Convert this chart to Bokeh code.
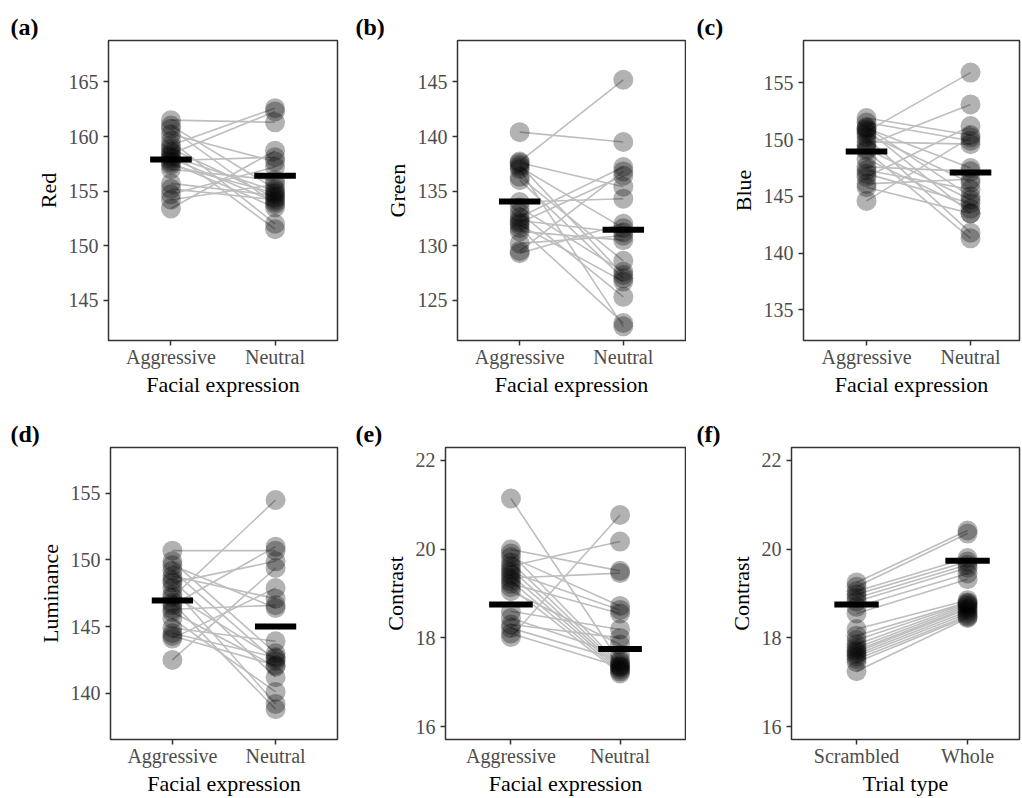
from bokeh.plotting import figure
from bokeh.layouts import row, column
from bokeh.models import FixedTicker, Range1d, Title
from bokeh.embed import file_html
from bokeh.resources import INLINE

expression_cats = ["Aggressive", "Neutral"]
trial_cats = ["Scrambled", "Whole"]

red_aggressive = [161.5, 161.0, 160.7, 160.2, 159.6, 159.2, 158.9, 158.6, 158.4, 158.2,
                  158.0, 157.8, 157.6, 157.4, 157.0, 155.7, 155.2, 154.7, 154.2, 153.4]
red_neutral = [161.3, 155.2, 153.8, 157.7, 152.0, 162.6, 154.4, 151.5, 162.3, 155.0,
               154.0, 158.1, 153.5, 154.8, 156.0, 154.6, 154.2, 157.2, 155.6, 158.7]
red_means = [157.9, 156.4]
red_ticks = [145, 150, 155, 160, 165]

green_aggressive = [140.4, 137.7, 137.6, 137.4, 137.2, 137.0, 136.3, 136.0, 134.0, 133.5,
                    133.0, 132.6, 132.3, 132.1, 131.9, 131.6, 131.3, 130.2, 129.5, 129.3]
green_neutral = [139.5, 145.2, 135.4, 127.3, 131.6, 122.6, 128.6, 127.0, 134.3, 127.6,
                 125.3, 137.2, 131.2, 136.4, 126.7, 122.9, 130.5, 130.9, 136.8, 132.0]
green_means = [134.05, 131.45]
green_ticks = [125, 130, 135, 140, 145]

blue_aggressive = [151.9, 151.5, 151.1, 151.0, 150.9, 150.7, 150.5, 150.2, 149.8, 149.5,
                   149.2, 149.0, 148.3, 147.6, 147.3, 147.0, 146.7, 146.1, 145.8, 144.6]
blue_neutral = [150.4, 149.9, 145.0, 147.5, 143.5, 155.9, 146.2, 141.8, 149.6, 153.1,
                144.7, 141.3, 143.9, 147.2, 145.6, 144.4, 151.2, 146.5, 143.5, 150.2]
blue_means = [148.95, 147.1]
blue_ticks = [135, 140, 145, 150, 155]

lum_aggressive = [150.7, 149.9, 149.6, 149.2, 148.8, 148.5, 148.3, 147.9, 147.4, 147.2,
                  146.8, 146.6, 146.3, 146.1, 145.6, 144.9, 144.5, 144.3, 144.1, 142.5]
lum_neutral = [150.7, 143.0, 146.4, 142.4, 147.1, 141.2, 149.9, 139.2, 142.6, 154.5,
               138.8, 151.0, 146.6, 142.0, 140.1, 143.9, 142.7, 142.1, 147.9, 149.4]
lum_means = [146.96, 145.0]
lum_ticks = [140, 145, 150, 155]

contrast_aggressive = [21.14, 19.99, 19.90, 19.82, 19.70, 19.62, 19.55, 19.48, 19.42, 19.35,
                       19.28, 19.22, 19.14, 19.05, 18.60, 18.45, 18.30, 18.22, 18.10, 18.02]
contrast_neutral = [17.45, 19.51, 17.40, 18.72, 17.36, 20.17, 17.32, 18.63, 17.28, 19.46,
                    17.24, 18.55, 17.20, 17.85, 18.19, 17.62, 18.00, 17.50, 17.35, 20.77]
contrast_expr_means = [18.75, 17.75]

contrast_scrambled = [19.25, 19.15, 19.05, 18.98, 18.90, 18.82, 18.70, 18.55, 18.20, 18.05,
                      17.95, 17.85, 17.78, 17.72, 17.68, 17.63, 17.58, 17.52, 17.45, 17.25]
contrast_whole = [20.42, 20.35, 19.80, 19.72, 19.65, 19.58, 19.45, 19.32, 18.85, 18.80,
                  18.78, 18.75, 18.72, 18.68, 18.65, 18.60, 18.55, 18.50, 18.47, 18.45]
contrast_trial_means = [18.75, 19.74]
contrast_ticks = [16, 18, 20, 22]

FONT = "Liberation Serif"


def make_panel(label, ylabel, xlabel, cats, first, second, means, yticks,
               yrange, xrange, width, height, left, right, top, bottom):
    p = figure(width=width, height=height,
               x_range=Range1d(*xrange), y_range=Range1d(*yrange),
               output_backend="svg", toolbar_location=None, tools="",
               min_border_left=left, min_border_right=right,
               min_border_top=top, min_border_bottom=bottom)
    xpos = [i + 1 for i in range(len(cats))]
    x_first = [xpos[0]] * len(first)
    x_second = [xpos[1]] * len(second)
    p.segment(x0=x_first, y0=first, x1=x_second, y1=second,
              line_color="#bebebe", line_width=1.6)
    p.scatter(x=x_first + x_second, y=first + second, size=20,
              fill_color="black", fill_alpha=0.3, line_color=None)
    p.rect(x=xpos, y=means, width=0.4, height=6, height_units="screen",
           fill_color="black", line_color=None)

    p.grid.visible = False
    p.background_fill_color = "white"
    p.border_fill_color = "white"
    p.outline_line_color = "#333333"
    p.outline_line_width = 1.5

    p.xaxis.ticker = FixedTicker(ticks=xpos)
    p.xaxis.major_label_overrides = {xpos[i]: cats[i] for i in range(len(cats))}
    p.yaxis.ticker = FixedTicker(ticks=yticks)
    p.axis.minor_tick_line_color = None
    p.axis.axis_line_color = None
    p.axis.major_tick_in = 0
    p.axis.major_tick_out = 5
    p.axis.major_tick_line_color = "#333333"
    p.axis.major_tick_line_width = 1.5
    p.axis.major_label_text_font = FONT
    p.axis.major_label_text_font_size = "20px"
    p.axis.major_label_text_color = "#4d4d4d"
    p.axis.axis_label_text_font = FONT
    p.axis.axis_label_text_font_size = "22px"
    p.axis.axis_label_text_font_style = "normal"
    p.axis.axis_label_text_color = "black"
    p.xaxis.axis_label = xlabel
    p.yaxis.axis_label = ylabel
    p.xaxis.major_label_standoff = 0
    p.yaxis.major_label_standoff = 5
    p.xaxis.axis_label_standoff = 1
    p.yaxis.axis_label_standoff = 5

    p.title = Title(text=label, align="left", offset=-(left - 10),
                    text_font=FONT, text_font_size="24px",
                    text_font_style="bold", text_color="black", standoff=2)
    return p


pa = make_panel("(a)", "Red", "Facial expression", expression_cats,
                red_aggressive, red_neutral, red_means, red_ticks,
                (141.3, 168.8), (0.4, 2.6), 345, 399, 108, 8, 40, 59)
pb = make_panel("(b)", "Green", "Facial expression", expression_cats,
                green_aggressive, green_neutral, green_means, green_ticks,
                (121.3, 148.8), (0.4, 2.6), 341, 399, 112, 1, 40, 59)
pc = make_panel("(c)", "Blue", "Facial expression", expression_cats,
                blue_aggressive, blue_neutral, blue_means, blue_ticks,
                (132.3, 158.73), (0.394, 2.471), 336, 399, 117, 3, 40, 59)
pd = make_panel("(d)", "Luminance", "Facial expression", expression_cats,
                lum_aggressive, lum_neutral, lum_means, lum_ticks,
                (136.53, 158.44), (0.4, 2.6), 345, 399, 110, 8, 48, 52)
pe = make_panel("(e)", "Contrast", "Facial expression", expression_cats,
                contrast_aggressive, contrast_neutral, contrast_expr_means, contrast_ticks,
                (15.71, 22.29), (0.4, 2.6), 341, 399, 100, 1, 48, 52)
pf = make_panel("(f)", "Contrast", "Trial type", trial_cats,
                contrast_scrambled, contrast_whole, contrast_trial_means, contrast_ticks,
                (15.71, 22.29), (0.414, 2.468), 336, 399, 105, 3, 48, 52)

layout = column(row(pa, pb, pc), row(pd, pe, pf))

open("out.html", "w").write(file_html(layout, INLINE))
